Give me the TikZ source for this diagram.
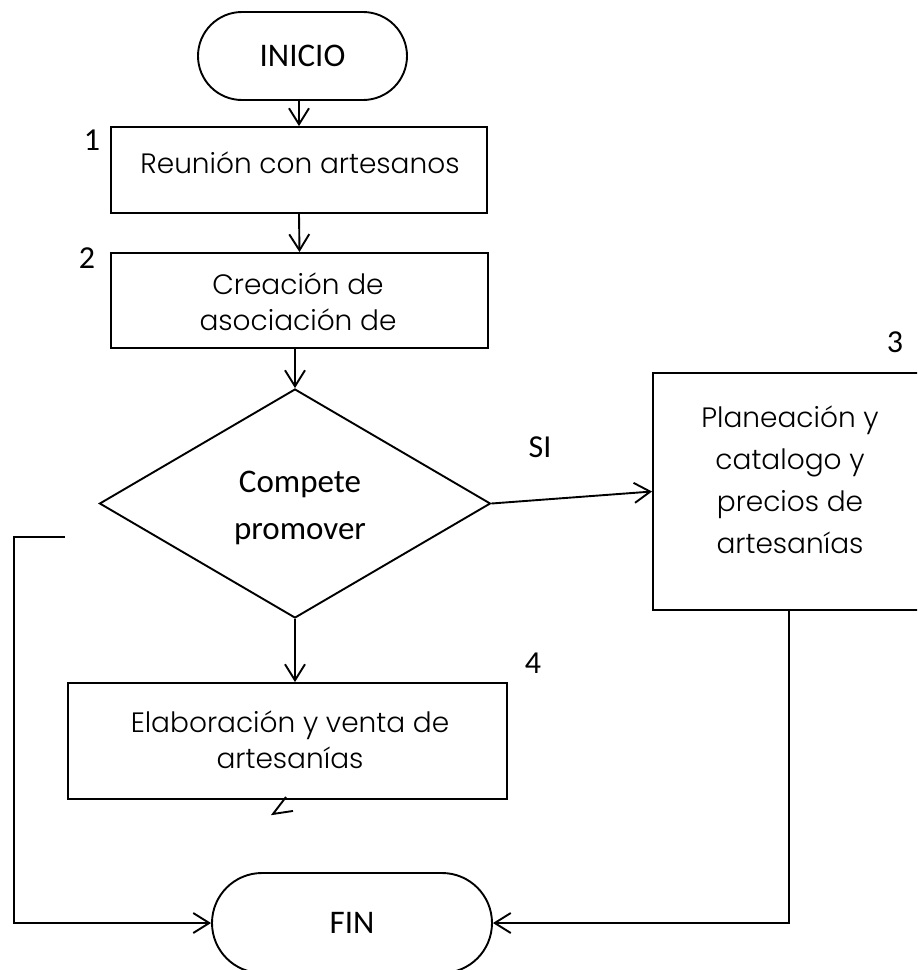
\documentclass[tikz,border=0pt]{standalone}
\usepackage{fontspec}
\usetikzlibrary{arrows.meta,shapes.geometric,shapes.misc,calc}
\newfontfamily\boxfont{Poppins Light}
\newfontfamily\calfont{Carlito}

\begin{document}
\begin{tikzpicture}[x=0.5pt,y=-0.5pt,
  line width=0.95pt,
  arr/.style={-{Straight Barb[length=8pt,width=10pt,line width=0.95pt]}},
  terminal/.style={draw,rounded rectangle,inner sep=0pt,
    font=\calfont\fontsize{16.5pt}{18pt}\selectfont},
  procbox/.style={draw,rectangle,inner sep=0pt},
  proctext/.style={inner sep=0pt,align=center,
    font=\boxfont\fontsize{14pt}{18pt}\selectfont},
  decision/.style={draw,diamond,inner sep=0pt},
  decisiontext/.style={inner sep=0pt,align=center,
    font=\calfont\fontsize{16.5pt}{23.5pt}\selectfont},
  numlabel/.style={inner sep=0pt,font=\calfont\fontsize{16pt}{18pt}\selectfont}]

\useasboundingbox (0,0) rectangle (917,970);
\clip (0,0) rectangle (917,970);

% terminals
\node[terminal,minimum width=104.5pt,minimum height=44pt] (ini) at (302.5,56) {INICIO};
\node[terminal,minimum width=140pt,minimum height=50pt] (fin) at (352,923) {FIN};

% process steps: frames, then their texts
\node[procbox,minimum width=188pt,minimum height=43pt] (b1) at (299,170) {};
\node[procbox,minimum width=188.5pt,minimum height=47.5pt] (b2) at (299.5,300.5) {};
\node[procbox,minimum width=136pt,minimum height=118.5pt] (b3) at (789,491.5) {};
\node[procbox,minimum width=219.5pt,minimum height=58pt] (b4) at (287.5,741) {};

\node[proctext] (b1t) at (300,163) {Reunión con artesanos};
\node[proctext] (b2t) at (298,302) {Creación de\\asociación de};
\node[proctext,font=\boxfont\fontsize{14pt}{21pt}\selectfont] (b3t) at (790,480)
      {Planeación y\\catalogo y\\precios de\\artesanías};
\node[proctext] (b4t) at (290,740) {Elaboración y venta de\\artesanías};

% decision
\node[decision,minimum width=195.5pt,minimum height=114.5pt] (d) at (295,503.5) {};
\node[decisiontext] (dt) at (300,508) {Compete\\promover};

% step numbers and branch label
\node[numlabel] (n1) at (92,140) {1};
\node[numlabel] (n2) at (87,258) {2};
\node[numlabel] (n3) at (895,342) {3};
\node[numlabel] (n4) at (533,663) {4};
\node[numlabel] (si) at (540,447) {SI};

% main flow
\draw[arr] (ini.south -| b1.north) -- (b1.north);
\draw[arr] (b1.south) -- (b2.north);
\draw[arr] (b2.south -| d.north) -- (d.north);
\draw[arr] (d.east) -- (b3.west);
\draw[arr] (d.south) -- (d.south |- b4.north);
\draw[arr] (b3.south) |- (fin.east);

% return line on the left
\coordinate (stub) at (65,537);
\coordinate (lcorner) at (14,537);
\draw[arr] (stub) -- (lcorner) |- (fin.west);

% loose arrowhead under step 4
\draw ($(b4.south)+(-1.5,-3)$) -- ($(b4.south)+(-14.5,14)$) -- ($(b4.south)+(5.5,11)$);
\end{tikzpicture}
\end{document}
